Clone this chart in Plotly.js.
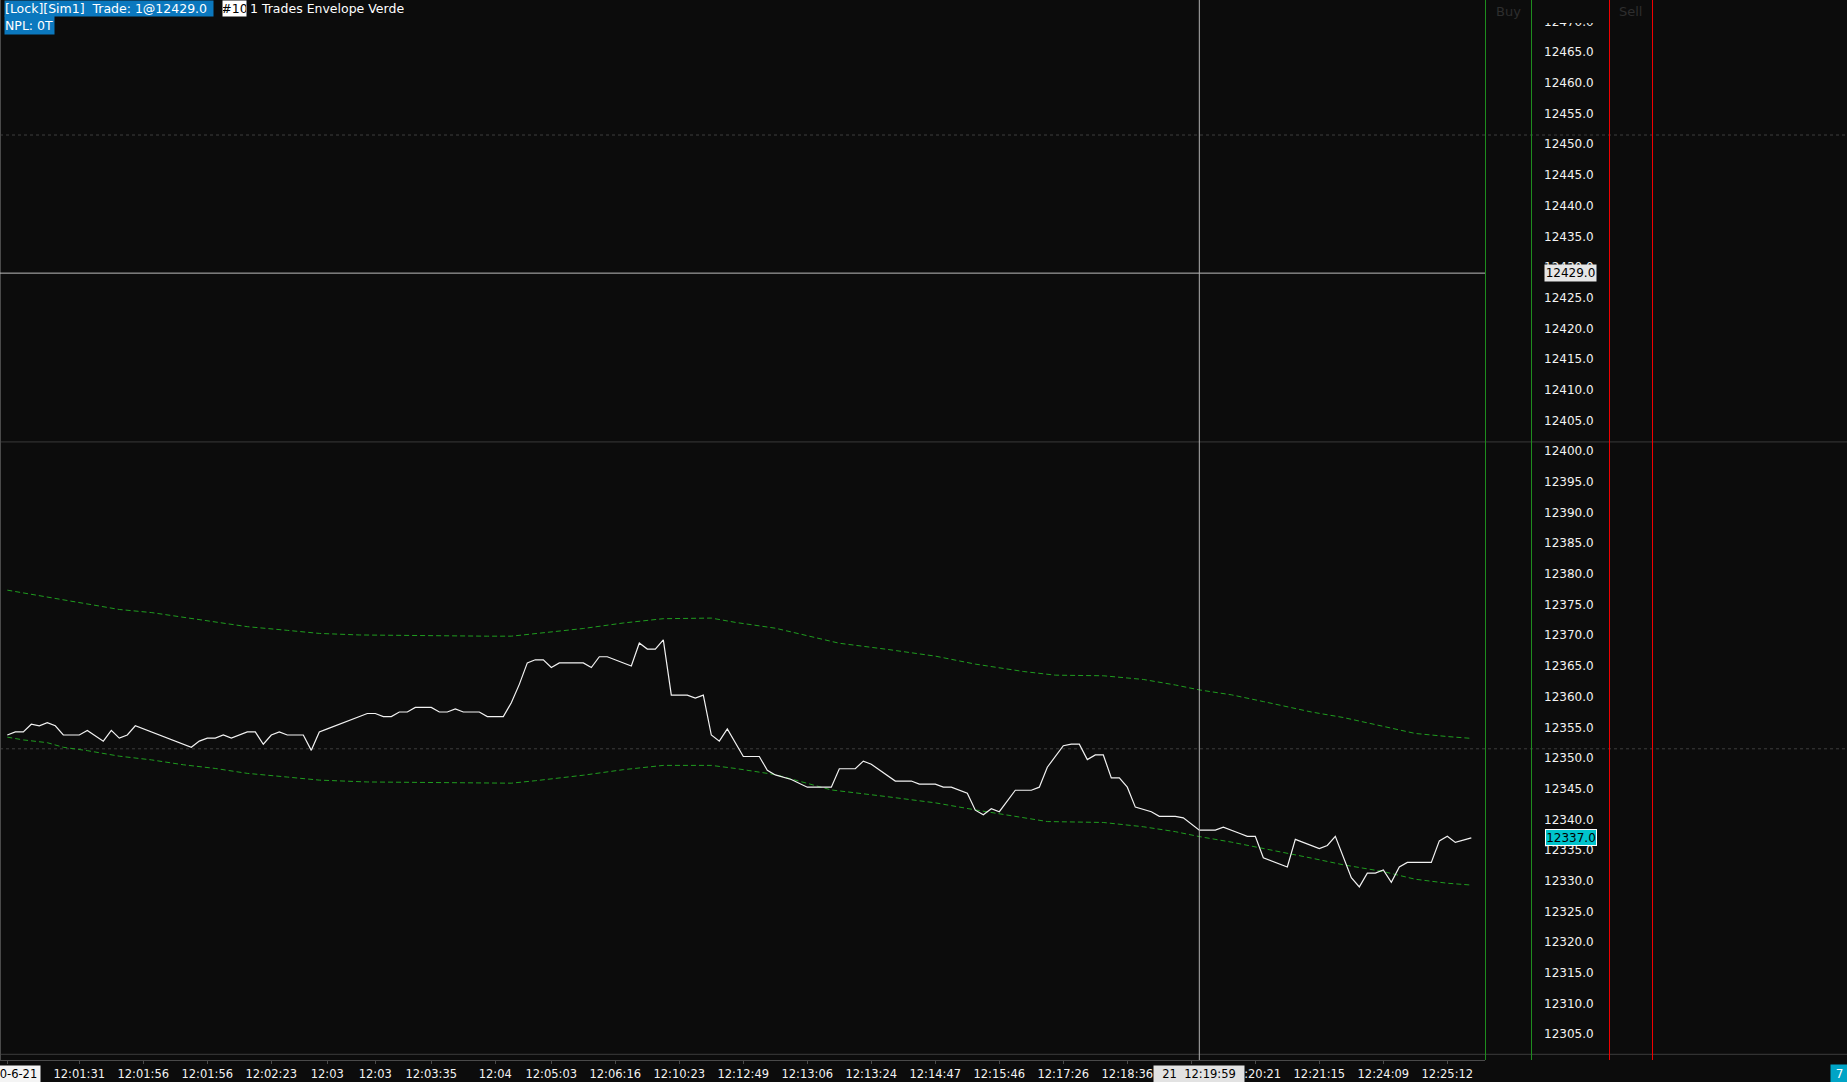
<!DOCTYPE html>
<html><head><meta charset="utf-8">
<script src="https://cdn.plot.ly/plotly-3.0.1.min.js"></script>
<style>html,body{margin:0;padding:0;background:#0c0c0c;overflow:hidden}#chart{width:1847px;height:1082px}</style>
</head><body><div id="chart"></div>
<script>
// ---- data (bar index, price) ----
const priceBars = [0,1,2,3,4,5,6,7,9,10,12,13,14,15,16,23,24,25,26,27,28,30,31,32,33,34,35,37,38,39,40,45,46,47,48,49,50,51,53,54,55,56,57,59,60,62,63,64,65,66,67,68,69,72,73,74,75,78,79,80,81,82,83,85,86,87,88,89,90,92,94,95,96,98,100,103,104,106,107,108,111,113,114,116,117,118,120,121,122,123,124,126,128,129,130,132,133,134,135,136,137,138,139,140,141,143,144,146,147,149,151,152,154,155,156,157,160,161,164,165,166,168,169,170,171,172,173,174,175,178,179,180,181,183];
const priceValues = [12353.75,12354.25,12354.25,12355.5,12355.25,12355.75,12355.25,12353.75,12353.75,12354.5,12352.75,12354.5,12353.25,12353.75,12355.25,12351.75,12352.75,12353.25,12353.25,12353.75,12353.25,12354.25,12354.25,12352.25,12353.75,12354.25,12353.75,12353.75,12351.25,12354.25,12354.75,12357.25,12357.25,12356.75,12356.75,12357.5,12357.5,12358.25,12358.25,12357.5,12357.5,12358,12357.5,12357.5,12356.75,12356.75,12359,12362,12365.5,12366,12366,12364.75,12365.5,12365.5,12364.75,12366.5,12366.5,12365,12368.75,12367.75,12367.75,12369.25,12360.25,12360.25,12359.75,12360.25,12353.75,12352.75,12354.75,12350.25,12350.25,12348,12347.25,12346.5,12345.25,12345.25,12348.25,12348.25,12349.5,12349,12346.25,12346.25,12345.75,12345.75,12345.25,12345.25,12344.25,12341.5,12340.75,12341.75,12341.25,12344.75,12344.75,12345.25,12348.5,12352,12352.25,12352.25,12349.75,12350.5,12350.5,12346.75,12346.75,12345.25,12342,12341.25,12340.5,12340.5,12340.25,12338.25,12338.25,12338.75,12337.75,12337.25,12337.25,12333.75,12332.25,12336.75,12335.25,12335.75,12337.25,12330.5,12329,12331.25,12331.25,12331.75,12329.75,12332.25,12333,12333,12336.5,12337.25,12336.25,12337];

const upperBars = [0,2,5,7,10,14,18,21,26,30,35,39,44,49,55,60,63,66,72,77,82,88,91,96,100,104,110,116,121,127,131,137,142,146,149,153,157,163,167,172,176,180,183];
const upperValues = [12377.35,12376.9,12376.3,12375.8,12375.1,12374.2,12373.7,12373.1,12372.1,12371.4,12370.8,12370.3,12370.05,12369.95,12369.95,12369.85,12369.85,12370.3,12371.1,12372.0,12372.7,12372.8,12372.1,12371.15,12369.9,12368.7,12367.7,12366.6,12365.3,12364.1,12363.5,12363.4,12362.8,12361.9,12361.1,12360.3,12359.2,12357.5,12356.6,12355.1,12354.0,12353.5,12353.2];

const lowerBars = [0,2,5,7,10,14,18,22,26,30,35,39,45,49,55,60,63,66,72,77,82,88,91,96,99,103,110,116,121,126,130,137,142,146,149,153,157,163,167,172,176,180,183];
const lowerValues = [12353.4,12352.95,12352.5,12351.75,12351.2,12350.3,12349.7,12348.9,12348.3,12347.5,12346.9,12346.4,12346.1,12346.05,12346.05,12346.0,12345.9,12346.3,12347.2,12348.1,12348.8,12348.8,12348.3,12347.3,12346.2,12344.8,12343.7,12342.7,12341.55,12340.5,12339.65,12339.5,12338.8,12338.0,12337.2,12336.3,12335.3,12333.7,12332.6,12331.5,12330.25,12329.6,12329.3];

const tickBars = [0,9,17,25,33,40,46,53,61,68,76,84,92,100,108,116,124,132,140,148,156,164,172,180];
const tickLabels = ['','12:01:31','12:01:56','12:01:56','12:02:23','12:03','12:03','12:03:35','12:04','12:05:03','12:06:16','12:10:23','12:12:49','12:13:06','12:13:24','12:14:47','12:15:46','12:17:26','12:18:36','','12:20:21','12:21:15','12:24:09','12:25:12'];

const gridLevels = [12351.5, 12401.5, 12451.5];
const gridDashed = [true, false, true];

const tradePrice = 12429.0;
const lastPrice = 12337.0;
const cursorBar = 149;
const cursorLabel = '21\u00a0\u00a012:19:59';
const sessionDate = '2020-6-21';
const headerTrade = '[Lock][Sim1]\u00a0\u00a0Trade: 1@12429.0';
const headerNpl = 'NPL: 0T';
const headerId = '#10';
const headerName = '1 Trades Envelope Verde';
const counterText = '7';

// ---- geometry helpers (pixels -> paper) ----
const W = 1847, H = 1082, PB = 22, PH = H - PB;
const px = v => v / W;
const py = v => 1 - v / PH;
const plotRight = 1485;

const font = 'DejaVu Sans, Verdana, sans-serif';
const BG = '#0c0c0c';

const traces = [
  {x: upperBars, y: upperValues, type: 'scatter', mode: 'lines',
   line: {color: '#1f9c1f', width: 1, dash: '5px,3px'}, hoverinfo: 'skip'},
  {x: lowerBars, y: lowerValues, type: 'scatter', mode: 'lines',
   line: {color: '#1f9c1f', width: 1, dash: '5px,3px'}, hoverinfo: 'skip'},
  {x: priceBars, y: priceValues, type: 'scatter', mode: 'lines',
   line: {color: '#f2f2f2', width: 1.2}, hoverinfo: 'skip'}
];

const shapes = [];
gridLevels.forEach((g, i) => shapes.push({type: 'line', xref: 'paper', yref: 'y', x0: 0, x1: 1, y0: g, y1: g,
  line: {color: gridDashed[i] ? '#3e3e3e' : '#3a3a3a', width: 1, dash: gridDashed[i] ? '3px,3px' : 'solid'}, layer: 'below'}));
shapes.push({type: 'line', xref: 'paper', yref: 'paper', x0: 0, x1: 1, y0: py(1054.3), y1: py(1054.3), line: {color: '#3c3c3c', width: 1}});
shapes.push({type: 'line', xref: 'paper', yref: 'paper', x0: px(0.5), x1: px(0.5), y0: 0, y1: 1, line: {color: '#4a4a4a', width: 1}});
shapes.push({type: 'line', xref: 'paper', yref: 'y', x0: 0, x1: px(plotRight), y0: tradePrice, y1: tradePrice, line: {color: '#bcbcbc', width: 1}, layer: 'above'});
shapes.push({type: 'line', xref: 'x', yref: 'paper', x0: cursorBar, x1: cursorBar, y0: 0, y1: 1, line: {color: '#b0b0b0', width: 1}, layer: 'above'});
shapes.push({type: 'rect', xref: 'paper', yref: 'paper', x0: px(1532), x1: px(1609), y0: py(23), y1: 1, fillcolor: BG, line: {width: 0}, layer: 'above'});
[[1485.5, '#1e8c1e'], [1531.5, '#1e8c1e'], [1609.5, '#f00000'], [1652.5, '#f00000']].forEach(([xp, c]) =>
  shapes.push({type: 'line', xref: 'paper', yref: 'paper', x0: px(xp), x1: px(xp), y0: 0, y1: 1, line: {color: c, width: 1}, layer: 'above'}));

const annFont = (size, color) => ({family: font, size: size, color: color});
const annotations = [
  {text: headerTrade, xref: 'paper', yref: 'paper', x: px(4), y: py(0), xanchor: 'left', yanchor: 'top', width: 208, height: 15,
   bgcolor: '#0b78be', borderpad: 0, showarrow: false, align: 'left', font: annFont(12.5, '#ffffff')},
  {text: headerNpl, xref: 'paper', yref: 'paper', x: px(4), y: py(15), xanchor: 'left', yanchor: 'top', width: 49, height: 18,
   bgcolor: '#0b78be', borderpad: 0, showarrow: false, align: 'left', font: annFont(12.5, '#ffffff')},
  {text: headerId, xref: 'paper', yref: 'paper', x: px(222), y: py(0), xanchor: 'left', yanchor: 'top', width: 23, height: 15,
   bgcolor: '#ffffff', borderpad: 0, showarrow: false, align: 'center', font: annFont(12.5, '#000000')},
  {text: headerName, xref: 'paper', yref: 'paper', x: px(249), y: py(0), xanchor: 'left', yanchor: 'top', height: 15,
   borderpad: 0, showarrow: false, align: 'left', font: annFont(12.5, '#ffffff')},
  {text: 'Buy', xref: 'paper', yref: 'paper', x: px(1508), y: py(12), xanchor: 'center', yanchor: 'middle',
   showarrow: false, font: annFont(13, '#2e2e2e')},
  {text: 'Sell', xref: 'paper', yref: 'paper', x: px(1630), y: py(12), xanchor: 'center', yanchor: 'middle',
   showarrow: false, font: annFont(13, '#2e2e2e')},
  {text: tradePrice.toFixed(1), xref: 'paper', yref: 'y', x: px(1570.5), y: tradePrice, xanchor: 'center', yanchor: 'middle',
   width: 51, height: 16, bgcolor: '#e6e6e6', borderpad: 0, showarrow: false, font: annFont(12, '#000000')},
  {text: lastPrice.toFixed(1), xref: 'paper', yref: 'y', x: px(1570.5), y: lastPrice, xanchor: 'center', yanchor: 'middle',
   width: 50, height: 15, bgcolor: '#00c4cc', bordercolor: '#ffffff', borderwidth: 1, borderpad: 0, showarrow: false, font: annFont(12, '#000000')},
  {text: sessionDate, xref: 'x', yref: 'paper', x: tickBars[0], y: py(1064.7), xanchor: 'center', yanchor: 'top',
   width: 65, height: 15.5, bgcolor: '#f4f4f4', borderpad: 0, showarrow: false, font: annFont(11.5, '#000000')},
  {text: cursorLabel, xref: 'x', yref: 'paper', x: cursorBar, y: py(1064.7), xanchor: 'center', yanchor: 'top',
   width: 90, height: 15.5, bgcolor: '#e2e2e2', borderpad: 0, showarrow: false, font: annFont(11.5, '#000000')},
  {text: counterText, xref: 'paper', yref: 'paper', x: px(1830), y: py(1064), xanchor: 'left', yanchor: 'top',
   width: 17, height: 18, bgcolor: '#00a4c6', borderpad: 0, showarrow: false, font: annFont(12, '#ffffff')}
];

const layout = {
  width: W, height: H,
  margin: {l: 0, r: 0, t: 0, b: PB, pad: 0},
  paper_bgcolor: BG, plot_bgcolor: BG,
  showlegend: false,
  xaxis: {
    domain: [0, px(plotRight)], range: [-0.9125, 184.71],
    tickmode: 'array', tickvals: tickBars, ticktext: tickLabels,
    ticks: 'outside', ticklen: 3, tickcolor: '#4a4a4a', tickwidth: 1,
    showline: true, linecolor: '#4a4a4a', linewidth: 1,
    showgrid: false, zeroline: false, fixedrange: true,
    tickfont: {family: font, size: 11.5, color: '#f2f2f2'}
  },
  yaxis: {
    anchor: 'free', position: px(1543), side: 'right',
    range: [12300.8, 12473.5], tick0: 12300, dtick: 5, tickformat: '.1f',
    ticks: '', showline: false, showgrid: false, zeroline: false, fixedrange: true,
    tickfont: {family: font, size: 12, color: '#f2f2f2'}
  },
  shapes: shapes,
  annotations: annotations
};

Plotly.newPlot('chart', traces, layout, {staticPlot: true, displayModeBar: false});
</script>
</body></html>
